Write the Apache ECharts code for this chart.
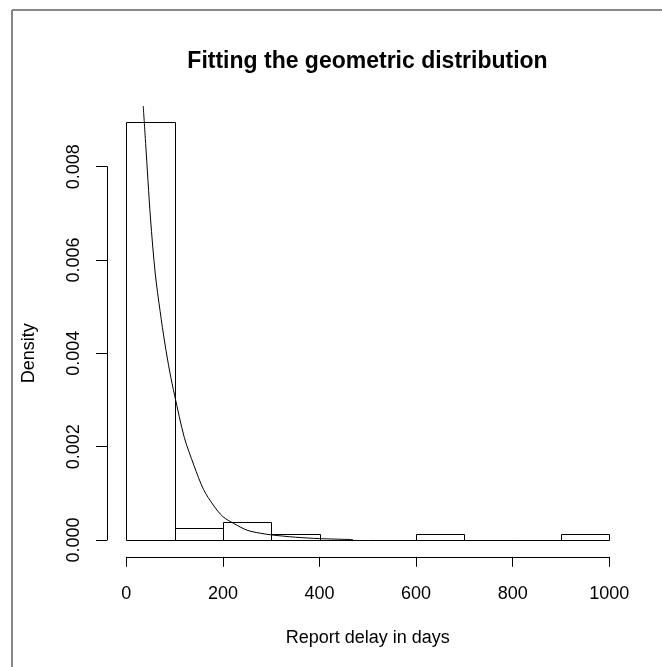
<!DOCTYPE html>
<html>
<head>
<meta charset="utf-8">
<script src="https://cdn.jsdelivr.net/npm/echarts@6/dist/echarts.min.js"></script>
<style>
html,body{margin:0;padding:0;background:#fff;}
#chart{width:662px;height:667px;}
</style>
</head>
<body>
<div id="chart"></div>
<script>
// Histogram bins (report delay in days) and densities
var binStart = [0, 100, 200, 300, 400, 500, 600, 700, 800, 900];
var binEnd   = [100, 200, 300, 400, 500, 600, 700, 800, 900, 1000];
var density  = [0.00896, 0.00026, 0.00039, 0.00013, 0, 0, 0.00013, 0, 0, 0.00013];

// Fitted geometric density curve
var curveX = [35, 40, 50, 60, 70, 80, 90, 100, 120, 140, 160, 180, 200, 225, 250, 275, 300, 350, 400, 469];
var curveY = [0.0093, 0.0085, 0.0069, 0.0057, 0.0049, 0.0042, 0.0036, 0.0031, 0.0022, 0.0016, 0.00108, 0.00075, 0.00050, 0.00034, 0.00021, 0.00015, 0.00011, 0.00006, 0.00003, 0.00001];

// Axis ticks
var xTicks = [0, 200, 400, 600, 800, 1000];
var yTicks = [0, 0.002, 0.004, 0.006, 0.008];

var FONT = "'Liberation Sans', Arial, Helvetica, sans-serif";

var histData = binStart.map(function (s, i) { return [s, binEnd[i], density[i]]; });
var curveData = curveX.map(function (x, i) { return [x, curveY[i]]; });

var chart = echarts.init(document.getElementById('chart'), null, {renderer: 'canvas'});

function crisp(v) { return Math.round(v) + 0.5; }

var option = {
  animation: false,
  backgroundColor: '#fff',
  textStyle: {fontFamily: FONT, color: '#000'},
  title: {
    text: 'Fitting the geometric distribution',
    left: 362.5,
    textAlign: 'center',
    top: 45,
    textStyle: {fontFamily: FONT, fontWeight: 'bold', fontSize: 23, color: '#000'}
  },
  graphic: [
    {type: 'line', shape: {x1: 12, y1: 10, x2: 662, y2: 10}, style: {stroke: '#888', lineWidth: 2}, silent: true},
    {type: 'line', shape: {x1: 12, y1: 10, x2: 12, y2: 667}, style: {stroke: '#888', lineWidth: 2}, silent: true}
  ],
  grid: [
    {left: 107, right: 33.4, top: 103.2, bottom: 110.2},
    {left: 126.3, right: 52.7, top: 103.2, bottom: 110.2},
    {left: 107, width: 500, top: 166.7, bottom: 127}
  ],
  xAxis: [
    {gridIndex: 0, type: 'value', min: -40, max: 1040, show: false},
    {
      gridIndex: 1, type: 'value', min: xTicks[0], max: xTicks[xTicks.length - 1], interval: 200,
      position: 'bottom',
      name: 'Report delay in days', nameLocation: 'middle', nameGap: 72,
      nameTextStyle: {fontFamily: FONT, fontSize: 18, color: '#000'},
      axisLine: {show: true, lineStyle: {color: '#000', width: 1}},
      axisTick: {show: true, length: 10, lineStyle: {color: '#000', width: 1}},
      axisLabel: {show: true, fontFamily: FONT, fontSize: 18, color: '#000', margin: 28,
        showMinLabel: true, showMaxLabel: true,
        formatter: function (v) { return String(v); }},
      splitLine: {show: false}
    },
    {gridIndex: 2, type: 'value', show: false}
  ],
  yAxis: [
    {gridIndex: 0, type: 'value', min: -0.00036, max: 0.00936, show: false},
    {gridIndex: 1, type: 'value', show: false},
    {
      gridIndex: 2, type: 'value', min: yTicks[0], max: yTicks[yTicks.length - 1], interval: 0.002,
      position: 'left',
      name: 'Density', nameLocation: 'middle', nameGap: 69, nameRotate: 90,
      nameTextStyle: {fontFamily: FONT, fontSize: 18, color: '#000'},
      axisLine: {show: true, lineStyle: {color: '#000', width: 1}},
      axisTick: {show: true, length: 11, lineStyle: {color: '#000', width: 1}},
      axisLabel: {show: true, rotate: 90, fontFamily: FONT, fontSize: 18, color: '#000', margin: 24,
        showMinLabel: true, showMaxLabel: true,
        formatter: function (v) { return v.toFixed(3); }},
      splitLine: {show: false}
    }
  ],
  series: [
    {
      type: 'custom',
      xAxisIndex: 0, yAxisIndex: 0,
      data: histData,
      encode: {x: [0, 1], y: 2},
      renderItem: function (params, api) {
        var x0 = api.value(0), x1 = api.value(1), d = api.value(2);
        var pTop = api.coord([x0, d]);
        var pBot = api.coord([x1, 0]);
        var left = crisp(pTop[0]), right = crisp(pBot[0]);
        var top = crisp(pTop[1]), bottom = crisp(pBot[1]);
        return {
          type: 'rect',
          shape: {x: left, y: top, width: right - left, height: bottom - top},
          style: {fill: 'rgba(0,0,0,0)', stroke: '#000', lineWidth: 1}
        };
      }
    },
    {
      type: 'line',
      xAxisIndex: 0, yAxisIndex: 0,
      data: curveData,
      showSymbol: false,
      smooth: 0.3,
      clip: true,
      lineStyle: {color: '#000', width: 1}
    }
  ]
};
chart.setOption(option);
</script>
</body>
</html>
